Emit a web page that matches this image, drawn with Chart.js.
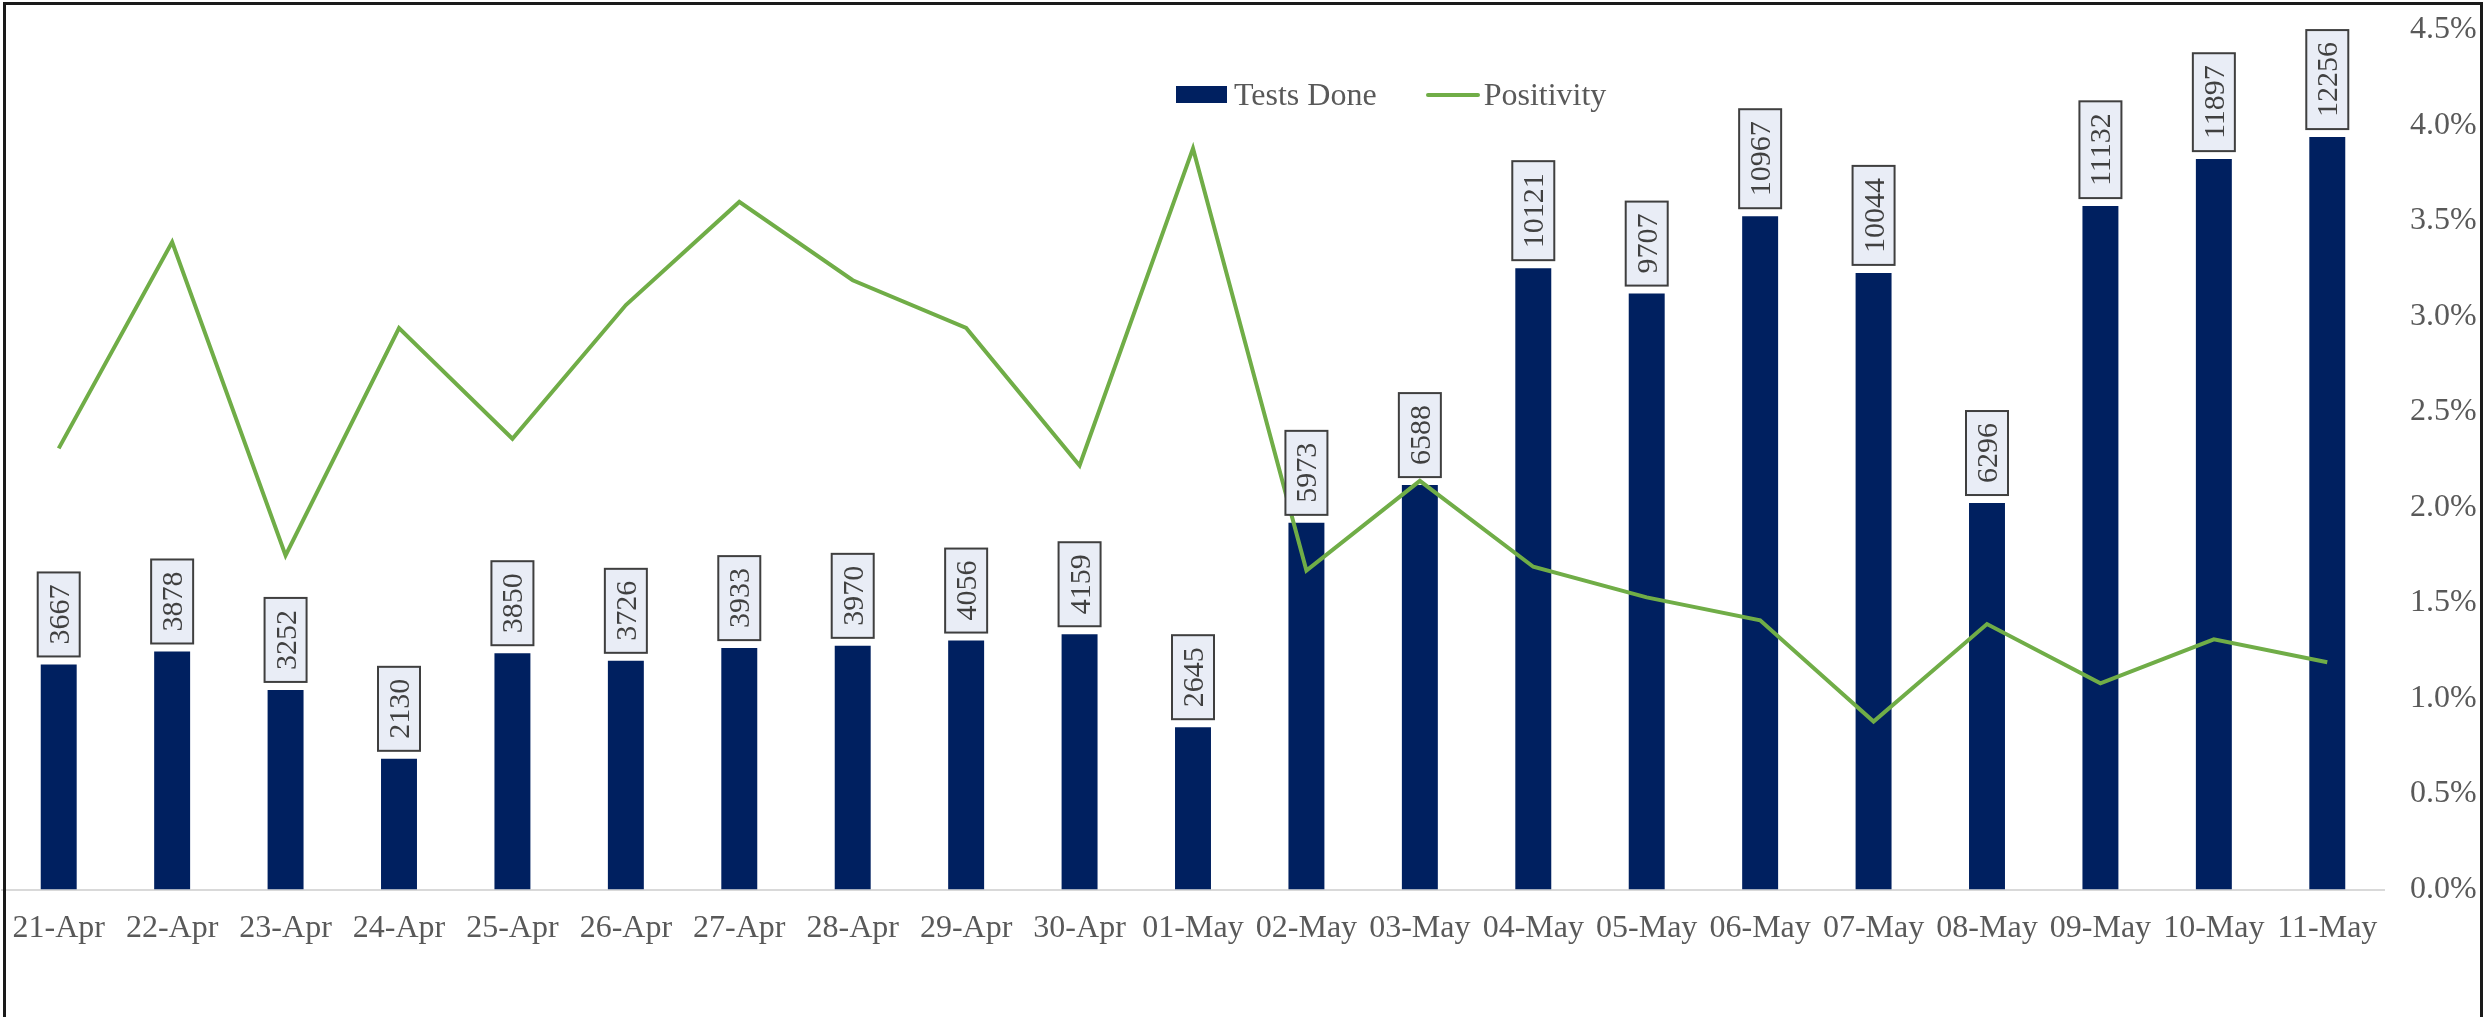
<!DOCTYPE html>
<html>
<head>
<meta charset="utf-8">
<title>Tests Done vs Positivity</title>
<script src="https://cdn.jsdelivr.net/npm/chart.js@4.4.0/dist/chart.umd.min.js"></script>
<style>
  html, body { margin: 0; padding: 0; background: #fff; }
  #wrap { position: relative; width: 2486px; height: 1017px; overflow: hidden; }
  #chartBox { position: absolute; left: 0; top: 0; width: 2486px; height: 1017px; }
  #frame { position: absolute; left: 3px; top: 2px; width: 2474px; height: 1060px; border: 3px solid #1a1a1a; pointer-events: none; }
  #legend { position: absolute; left: 1176px; top: 76px; display: flex; align-items: center;
            font-family: "Liberation Serif", "Times New Roman", serif; font-size: 32px; line-height: normal; color: #595959; }
  #legend .box { width: 51px; height: 17px; background: #002060; margin-right: 7px; }
  #legend .line { width: 54px; height: 4px; background: #70AD47; margin-left: 49px; margin-right: 4px; border-radius: 2px; }
</style>
</head>
<body>
<div id="wrap">
  <div id="chartBox"><canvas id="testsChart"></canvas></div>
  <div id="legend">
    <span class="box"></span><span>Tests Done</span>
    <span class="line"></span><span>Positivity</span>
  </div>
  <div id="frame"></div>
</div>
<script>
const dates = ["21-Apr", "22-Apr", "23-Apr", "24-Apr", "25-Apr", "26-Apr", "27-Apr", "28-Apr", "29-Apr", "30-Apr",
  "01-May", "02-May", "03-May", "04-May", "05-May", "06-May", "07-May", "08-May", "09-May", "10-May", "11-May"];
const testsDone = [3667, 3878, 3252, 2130, 3850, 3726, 3933, 3970, 4056, 4159,
  2645, 5973, 6588, 10121, 9707, 10967, 10044, 6296, 11132, 11897, 12256];
// positivity in percent
const positivity = [2.31, 3.39, 1.75, 2.94, 2.36, 3.06, 3.60, 3.19, 2.94, 2.22,
  3.88, 1.67, 2.14, 1.69, 1.53, 1.41, 0.88, 1.39, 1.08, 1.31, 1.19];

const FONT = '"Liberation Serif", "Times New Roman", serif';
Chart.defaults.font.family = FONT;

// boxed, rotated value labels above each bar
const barLabels = {
  id: "barLabels",
  afterDatasetsDraw(chart) {
    const ctx = chart.ctx;
    const meta = chart.getDatasetMeta(1);
    ctx.save();
    ctx.font = "30px " + FONT;
    meta.data.forEach((bar, i) => {
      const txt = String(testsDone[i]);
      const tw = ctx.measureText(txt).width;
      const h = tw + 24;
      const w = 42;
      const bottom = bar.y - 8;
      const left = bar.x - w / 2;
      ctx.fillStyle = "#e9edf6";
      ctx.fillRect(left, bottom - h, w, h);
      ctx.strokeStyle = "#3f3f3f";
      ctx.lineWidth = 2;
      ctx.strokeRect(left, bottom - h, w, h);
      ctx.save();
      ctx.translate(bar.x, bottom - h / 2);
      ctx.rotate(-Math.PI / 2);
      ctx.fillStyle = "#404040";
      ctx.textAlign = "center";
      ctx.textBaseline = "alphabetic";
      ctx.fillText(txt, 0, 10);
      ctx.restore();
    });
    ctx.restore();
  }
};

const ctx = document.getElementById("testsChart").getContext("2d");
new Chart(ctx, {
  type: "bar",
  data: {
    labels: dates,
    datasets: [
      {
        type: "line",
        label: "Positivity",
        data: positivity,
        yAxisID: "y1",
        borderColor: "#70AD47",
        borderWidth: 4,
        pointRadius: 0,
        tension: 0,
        fill: false,
        order: 0
      },
      {
        type: "bar",
        label: "Tests Done",
        data: testsDone,
        yAxisID: "y",
        backgroundColor: "#002060",
        barPercentage: 0.317,
        categoryPercentage: 1,
        order: 1
      }
    ]
  },
  options: {
    responsive: true,
    maintainAspectRatio: false,
    animation: false,
    layout: { padding: { left: 2, top: 30, right: 0, bottom: 49 } },
    plugins: {
      legend: { display: false },
      tooltip: { enabled: false }
    },
    scales: {
      x: {
        grid: { display: false, drawTicks: false },
        border: { color: "#d9d9d9", width: 2 },
        ticks: {
          color: "#595959",
          font: { size: 32 },
          maxRotation: 0,
          autoSkip: false,
          padding: 20
        },
        afterFit(scale) { scale.paddingLeft = 0; scale.paddingRight = 0; }
      },
      y: { display: false, min: 0, max: 14000 },
      y1: {
        position: "right",
        min: 0,
        max: 4.5,
        grid: { display: false, drawTicks: false },
        border: { display: false },
        ticks: {
          stepSize: 0.5,
          padding: 26,
          color: "#595959",
          font: { size: 32 },
          callback: v => v.toFixed(1) + "%"
        },
        afterFit(scale) { scale.width = 102; scale.paddingTop = 0; scale.paddingBottom = 0; }
      }
    }
  },
  plugins: [barLabels]
});
</script>
</body>
</html>
